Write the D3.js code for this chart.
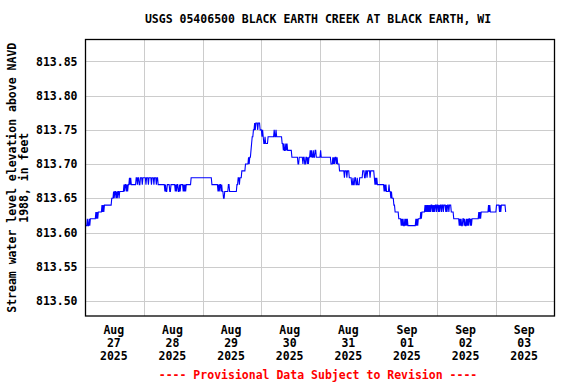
<!DOCTYPE html>
<html>
<head>
<meta charset="utf-8">
<script src="https://cdn.jsdelivr.net/npm/d3@7"></script>
<style>
  body { margin: 0; background: #fff; }
  svg text { font-family: "DejaVu Sans Mono", "Liberation Mono", monospace; font-weight: bold; font-size: 11.5px; }
</style>
</head>
<body>
<svg id="chart" width="576" height="384"></svg>
<script>
// gage readings, one char per 15 minutes, hundredths of a foot above 813.60
// ('1'..'9' then 'A'..'G' for 10..16), one string per day starting Aug 27 00:00
const levelDays = [
  "11" + "1211212" + "22222222" + "32323" + "33333" + "43434" + "44444444444" + "555" +
    "656656566566" + "66666" + "76776767" + "78787" + "7777777" + "8878877888788",
  "88878887888878887888788" + "77777777777" + "67667" + "777" + "66" + "7777777" + "676" +
    "77" + "66767" + "777" + "67676" + "77777777" + "8888888888888888888",
  "888888888888888" + "7777777777" + "6767767" + "6" + "6556" + "66666" + "77" +
    "666666666666" + "778" + "87888" + "99999" + "9AAAA" + "ABAB" + "BCDEEF" + "FGFG" + "GGFGG" + "GFF",
  "F" + "EFE" + "DDEDDDD" + "EEEEEEEEEE" + "FEEFE" + "EEEEEEEE" + "DDCDC" + "CDCDCC" + "CCCCC" +
    "BBBBBBBBBB" + "AABB" + "BBBBABBAABB" + "ABAB" + "BCBCBBCBBCCBBBBBB",
  "BC" + "BBBBBBBBBBBBBBBB" + "AAA" + "BABABBAB" + "AAA" + "999999" + "9989998999" + "888" +
    "87787788778777" + "88888" + "99988998999989999" + "99" + "878787" + "7",
  "777777777" + "67676" + "66676" + "65655" + "544" + "333333" + "2222" + "121211212121" +
    "11111111111" + "121" + "21222" + "232" + "33333" + "434343" + "43434434343443",
  "443434434434443434434443" + "333" + "222222222" + "12121122121121212" + "212122222222" +
    "22232323" + "33333333333" + "434" + "33333333" + "3",
  "34" + "4444" + "3434" + "444444" + "3"
];
const baseLevel = 813.60;
const levelStep = 0.01;
const startDate = new Date(Date.UTC(2025, 7, 27));
const endDate = new Date(Date.UTC(2025, 8, 4));

const yTicks = [813.50, 813.55, 813.60, 813.65, 813.70, 813.75, 813.80, 813.85];
const dayLabels = [
  ["Aug", "27", "2025"], ["Aug", "28", "2025"], ["Aug", "29", "2025"], ["Aug", "30", "2025"],
  ["Aug", "31", "2025"], ["Sep", "01", "2025"], ["Sep", "02", "2025"], ["Sep", "03", "2025"]
];

const svg = d3.select("#chart");
const plot = { left: 85.5, right: 554.5, top: 39.5, bottom: 316 };

const x = d3.scaleUtc().domain([startDate, endDate]).range([plot.left, plot.right]);
const y = d3.scaleLinear().domain([813.478, 813.882]).range([plot.bottom, plot.top]);

// build the series
let series = [];
levelDays.forEach(function (s, day) {
  for (let i = 0; i < s.length; i++) {
    let t = new Date(startDate.getTime() + (day * 96 + i) * 15 * 60000);
    series.push({ date: t, value: baseLevel + parseInt(s[i], 17) * levelStep });
  }
});

// horizontal grid
svg.append("g")
  .attr("transform", `translate(${plot.left},0)`)
  .call(d3.axisLeft(y).tickValues(yTicks).tickSize(-(plot.right - plot.left)).tickFormat(""))
  .call(g => g.select(".domain").remove())
  .call(g => g.selectAll("line").attr("stroke", "#cccccc").attr("shape-rendering", "crispEdges"));

// vertical grid at midnight
let midnights = d3.utcDay.range(d3.utcDay.offset(startDate, 1), endDate);
svg.append("g")
  .attr("transform", `translate(0,${plot.bottom})`)
  .call(d3.axisBottom(x).tickValues(midnights).tickSize(-(plot.bottom - plot.top)).tickFormat(""))
  .call(g => g.select(".domain").remove())
  .call(g => g.selectAll("line").attr("stroke", "#cccccc").attr("shape-rendering", "crispEdges"));

// y tick labels
svg.append("g")
  .attr("transform", `translate(${plot.left},0)`)
  .call(d3.axisLeft(y).tickValues(yTicks).tickSize(0).tickPadding(8).tickFormat(d3.format(".2f")))
  .call(g => g.select(".domain").remove())
  .call(g => g.selectAll("text").attr("fill", "#000").style("font-size", "11.5px")
    .style("font-family", "'DejaVu Sans Mono', monospace").style("font-weight", "bold"));

// x tick labels at noon
let noons = d3.utcDay.range(startDate, endDate).map(d => d3.utcHour.offset(d, 12));
let xl = svg.append("g");
noons.forEach(function (d, i) {
  let t = xl.append("text").attr("text-anchor", "middle").attr("x", x(d) - 1);
  dayLabels[i].forEach(function (line, j) {
    t.append("tspan").attr("x", x(d) - 1).attr("y", 334 + j * 13).text(line);
  });
});

// data line
svg.append("path")
  .datum(series)
  .attr("fill", "none")
  .attr("stroke", "#0000ff")
  .attr("stroke-width", 1.1)
  .attr("d", d3.line().x(d => x(d.date)).y(d => y(d.value)));

// frame
svg.append("rect")
  .attr("x", plot.left).attr("y", plot.top)
  .attr("width", plot.right - plot.left).attr("height", plot.bottom - plot.top)
  .attr("fill", "none").attr("stroke", "#000").attr("stroke-width", 1.3);

// title
svg.append("text")
  .attr("x", 318).attr("y", 23).attr("text-anchor", "middle")
  .text("USGS 05406500 BLACK EARTH CREEK AT BLACK EARTH, WI");

// y axis title
let yt = svg.append("text")
  .attr("transform", `translate(0,${(plot.top + plot.bottom) / 2}) rotate(-90)`)
  .attr("text-anchor", "middle");
yt.append("tspan").attr("x", 0).attr("y", 15.5).text("Stream water level elevation above NAVD");
yt.append("tspan").attr("x", 0).attr("y", 27.5).text("1988, in feet");

// footer
svg.append("text")
  .attr("x", 318).attr("y", 378.5).attr("text-anchor", "middle")
  .attr("fill", "#ff0000")
  .text("---- Provisional Data Subject to Revision ----");
</script>
</body>
</html>
